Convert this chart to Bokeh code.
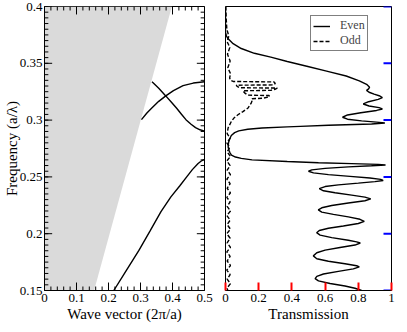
import numpy as np
from bokeh.plotting import figure
from bokeh.models import SingleIntervalTicker, CustomJSTickFormatter, Range1d, Legend, LegendItem
from bokeh.layouts import row
from bokeh.embed import file_html
from bokeh.resources import INLINE

FONT = "Liberation Serif"

# ---------------- data ----------------
cone_k = [0.0, 0.155, 0.398, 0.0]
cone_f = [0.15, 0.15, 0.40, 0.40]

band1_k = [0.2165, 0.25, 0.295, 0.33, 0.364, 0.395, 0.423, 0.445, 0.462, 0.48, 0.49, 0.5]
band1_f = [0.15, 0.165, 0.1853, 0.2025, 0.2194, 0.2324, 0.2422, 0.2503, 0.2564, 0.2618, 0.2640, 0.2655]

band2_k = [0.303, 0.32, 0.3345, 0.357, 0.379, 0.403, 0.433, 0.465, 0.5]
band2_f = [0.3004, 0.3063, 0.3104, 0.3165, 0.3213, 0.326, 0.3303, 0.3326, 0.3338]

band3_k = [0.336, 0.357, 0.379, 0.396, 0.413, 0.428, 0.442, 0.458, 0.472, 0.486, 0.5]
band3_f = [0.3337, 0.328, 0.3213, 0.316, 0.3104, 0.3052, 0.3004, 0.2963, 0.2934, 0.2915, 0.2903]

even_f = [0.400, 0.3772, 0.3740, 0.3716, 0.3673, 0.3630, 0.3588, 0.3554, 0.3516, 0.3474,
          0.3431, 0.3388, 0.3346, 0.3315, 0.3290, 0.3275, 0.3262, 0.3245, 0.3228, 0.3212,
          0.3198, 0.3182, 0.3162, 0.3142, 0.3124, 0.3110, 0.3098, 0.3085, 0.3065, 0.3045,
          0.3025, 0.3008, 0.2993, 0.2982, 0.2974, 0.2966, 0.2955, 0.2945, 0.2940, 0.2930,
          0.2920, 0.2905, 0.2890, 0.2865, 0.2834, 0.2800, 0.2763, 0.2730, 0.2710, 0.2692,
          0.2675, 0.2663, 0.2650, 0.2635, 0.2625, 0.2617, 0.2610, 0.2605,
          0.2598, 0.2588, 0.2575, 0.2562, 0.2550, 0.2535, 0.2520, 0.2505, 0.2490, 0.2478,
          0.2468, 0.2458, 0.2445, 0.2430, 0.2415, 0.2396, 0.2378, 0.2360, 0.2340, 0.2322,
          0.2307, 0.2290, 0.2270, 0.2248, 0.2228, 0.2209, 0.2190, 0.2170, 0.2148, 0.2127,
          0.2109, 0.2090, 0.2068, 0.2048, 0.2028, 0.2009, 0.1988, 0.1965, 0.1942, 0.1928,
          0.1918, 0.1900, 0.1878, 0.1855, 0.1832, 0.1805, 0.1780, 0.1758, 0.1735, 0.1718,
          0.1708, 0.1690, 0.1668, 0.1645, 0.1625, 0.1605, 0.1585, 0.1562, 0.1540, 0.1520,
          0.1500]
even_t = [0.000, 0.000, 0.006, 0.016, 0.046, 0.095, 0.174, 0.273, 0.372, 0.490,
          0.609, 0.727, 0.806, 0.850, 0.868, 0.862, 0.850, 0.865, 0.895, 0.930,
          0.945, 0.920, 0.862, 0.830, 0.865, 0.925, 0.945, 0.910, 0.815, 0.735,
          0.705, 0.735, 0.820, 0.910, 0.960, 0.880, 0.620, 0.450, 0.372, 0.220,
          0.134, 0.080, 0.055, 0.035, 0.025, 0.018, 0.016, 0.022, 0.028, 0.036,
          0.060, 0.095, 0.160, 0.372, 0.560, 0.760, 0.920, 0.964,
          0.880, 0.740, 0.600, 0.520, 0.500, 0.530, 0.620, 0.750, 0.870, 0.935,
          0.950, 0.900, 0.800, 0.680, 0.600, 0.565, 0.590, 0.660, 0.760, 0.840,
          0.875, 0.840, 0.740, 0.640, 0.580, 0.559, 0.580, 0.650, 0.740, 0.810,
          0.836, 0.800, 0.710, 0.620, 0.565, 0.549, 0.570, 0.640, 0.740, 0.790,
          0.812, 0.780, 0.690, 0.600, 0.550, 0.529, 0.550, 0.620, 0.720, 0.790,
          0.806, 0.770, 0.680, 0.590, 0.550, 0.540, 0.560, 0.630, 0.720, 0.780,
          0.820]

odd_f = [0.400, 0.390, 0.380, 0.374, 0.369, 0.364, 0.358, 0.352, 0.346, 0.341,
         0.3370, 0.3350, 0.3340, 0.3336, 0.3322, 0.3310, 0.3307, 0.3296, 0.3285, 0.3282,
         0.3272, 0.3262, 0.3258, 0.3240, 0.3220, 0.3216, 0.3205, 0.3192, 0.3188, 0.3170,
         0.3147, 0.3104, 0.3075, 0.3047, 0.3020, 0.2990, 0.2933, 0.2880,
         0.284, 0.280, 0.276, 0.272, 0.268, 0.264, 0.260, 0.256, 0.252, 0.248,
         0.244, 0.240, 0.236, 0.232, 0.228, 0.224, 0.220, 0.216, 0.212, 0.208,
         0.204, 0.200, 0.196, 0.192, 0.188, 0.184, 0.180, 0.176, 0.172, 0.168,
         0.164, 0.160, 0.156, 0.152, 0.150]
odd_t = [0.002, 0.004, 0.008, 0.020, 0.010, 0.026, 0.012, 0.028, 0.014, 0.030,
         0.025, 0.030, 0.046, 0.292, 0.300, 0.290, 0.065, 0.070, 0.085, 0.312,
         0.300, 0.273, 0.105, 0.115, 0.134, 0.263, 0.265, 0.223, 0.160, 0.160,
         0.154, 0.134, 0.105, 0.075, 0.052, 0.036, 0.016, 0.010,
         0.028, 0.008, 0.026, 0.010, 0.030, 0.008, 0.028, 0.010, 0.030, 0.008,
         0.028, 0.010, 0.030, 0.008, 0.028, 0.010, 0.030, 0.008, 0.028, 0.010,
         0.030, 0.008, 0.028, 0.010, 0.030, 0.008, 0.028, 0.010, 0.030, 0.008,
         0.028, 0.010, 0.030, 0.008, 0.015]

freq_range = (0.15, 0.40)
k_range = (0.0, 0.5)
t_range = (0.0, 1.0)
freq_major, freq_minor = 0.05, 0.005
k_major, k_minor = 0.1, 0.02
t_major, t_minor = 0.2, 0.04

LW = 1.4
MAJOR_LEN, MINOR_LEN = 8, 4
FRAME_H = 285          # approx. frame height in px
FRAME_W1, FRAME_W2 = 167, 166

fmt_num = CustomJSTickFormatter(code="return Number(tick.toFixed(2)).toString();")


def tick_positions(lo, hi, step):
    n = int(round((hi - lo) / step))
    return [round(lo + i * step, 6) for i in range(n + 1)]


def style_axis(ax, interval, title):
    ax.ticker = SingleIntervalTicker(interval=interval)
    ax.formatter = fmt_num
    ax.major_tick_in = 0
    ax.major_tick_out = 0
    ax.minor_tick_in = 0
    ax.minor_tick_out = 0
    ax.axis_line_color = "black"
    ax.major_label_text_font = FONT
    ax.major_label_text_font_size = "13px"
    ax.major_label_text_color = "black"
    ax.major_label_standoff = 3
    ax.axis_label = title
    ax.axis_label_text_font = FONT
    ax.axis_label_text_font_size = "15px"
    ax.axis_label_text_font_style = "normal"
    ax.axis_label_text_color = "black"
    ax.axis_label_standoff = 1


def frame_ticks_seg(p, xr, yr, fw, fh, xmaj, xmin, ymaj, ymin):
    dx = (xr[1] - xr[0]) / fw
    dy = (yr[1] - yr[0]) / fh
    for step, ln in ((xmin, MINOR_LEN), (xmaj, MAJOR_LEN)):
        xs = tick_positions(xr[0], xr[1], step)
        n = len(xs)
        p.segment(x0=xs, y0=[yr[0]] * n, x1=xs, y1=[yr[0] + ln * dy] * n, line_color="black", line_width=1)
        p.segment(x0=xs, y0=[yr[1]] * n, x1=xs, y1=[yr[1] - ln * dy] * n, line_color="black", line_width=1)
    for step, ln in ((ymin, MINOR_LEN), (ymaj, MAJOR_LEN)):
        ys = tick_positions(yr[0], yr[1], step)
        n = len(ys)
        p.segment(x0=[xr[0]] * n, y0=ys, x1=[xr[0] + ln * dx] * n, y1=ys, line_color="black", line_width=1)
        p.segment(x0=[xr[1]] * n, y0=ys, x1=[xr[1] - ln * dx] * n, y1=ys, line_color="black", line_width=1)


def make_fig(width, xr, min_left, min_right, yaxis=True):
    p = figure(width=width, height=324, x_range=Range1d(*xr), y_range=Range1d(*freq_range),
               output_backend="svg", toolbar_location=None,
               y_axis_location="left" if yaxis else None,
               min_border_left=min_left, min_border_right=min_right,
               min_border_top=6, min_border_bottom=0)
    p.grid.visible = False
    p.outline_line_color = "black"
    p.outline_line_width = 1
    p.background_fill_color = "white"
    p.border_fill_color = "white"
    return p


p1 = make_fig(214, k_range, 37, 10)
style_axis(p1.xaxis[0], k_major, "Wave vector (2\u03c0/a)")
style_axis(p1.yaxis[0], freq_major, "Frequency (a/\u03bb)")
p1.yaxis[0].major_label_standoff = 2
p1.yaxis[0].axis_label_standoff = -3

p1.patch(cone_k, cone_f, fill_color="#dadada", line_color=None)
p1.line(band1_k, band1_f, line_color="black", line_width=LW)
p1.line(band2_k, band2_f, line_color="black", line_width=LW)
p1.line(band3_k, band3_f, line_color="black", line_width=LW)
frame_ticks_seg(p1, k_range, freq_range, FRAME_W1, FRAME_H, k_major, k_minor, freq_major, freq_minor)

p2 = make_fig(181, t_range, 11, 4, yaxis=False)
style_axis(p2.xaxis[0], t_major, "Transmission")
# diagnostic: axis inward ticks in red
p2.xaxis[0].major_tick_in = 8
p2.xaxis[0].major_tick_line_color = "red"
p2.xaxis[0].major_tick_line_width = 2

r_even = p2.line(even_t, even_f, line_color="black", line_width=LW)
r_odd = p2.line(odd_t, odd_f, line_color="black", line_width=LW, line_dash="4 2")
# diagnostic: rays in blue on right edge
ys = tick_positions(freq_range[0], freq_range[1], freq_major)
p2.ray(x=[t_range[1]] * len(ys), y=ys, length=8, length_units="screen", angle=np.pi,
       line_color="blue", line_width=2)

legend = Legend(items=[LegendItem(label="Even", renderers=[r_even]),
                       LegendItem(label="Odd", renderers=[r_odd])],
                location=(85, 239), orientation="vertical",
                border_line_color="black", border_line_width=1,
                background_fill_color="white", background_fill_alpha=1.0,
                padding=2, spacing=0, margin=0, label_standoff=10,
                glyph_width=17, glyph_height=12, label_height=12,
                label_text_font=FONT, label_text_font_size="12px")
p2.add_layout(legend)

p = row(p1, p2)
open("out.html", "w").write(file_html(p, INLINE))
